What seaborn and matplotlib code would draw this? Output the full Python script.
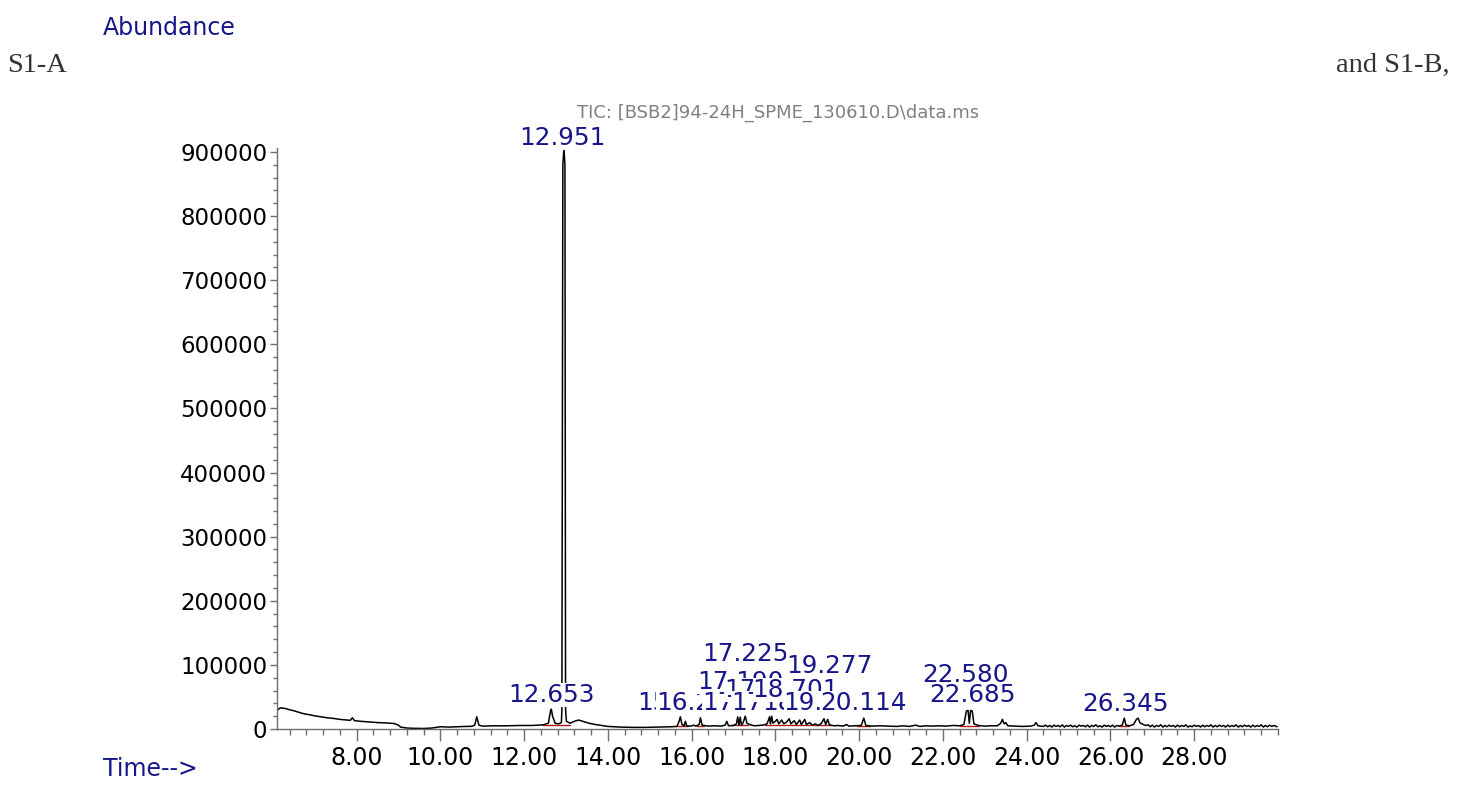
import numpy as np
import pandas as pd
import seaborn as sns
import matplotlib.pyplot as plt
from matplotlib.ticker import MultipleLocator

# retention time (min) and abundance
rt = [6.10, 6.18, 6.30, 6.40, 6.50, 6.60, 6.70, 6.80, 6.90, 7.00, 7.15, 7.30, 7.45, 7.60,
      7.75, 7.85, 7.90, 7.95, 8.10, 8.30, 8.50, 8.70, 8.90, 9.00, 9.05, 9.20, 9.40, 9.60,
      9.80, 10.00, 10.20, 10.40, 10.60, 10.75, 10.82, 10.87, 10.92, 11.00, 11.30, 11.60,
      11.90, 12.20, 12.45, 12.58, 12.63, 12.65, 12.68, 12.74, 12.82, 12.89, 12.902, 12.925,
      12.951, 12.975, 12.99, 13.01, 13.10, 13.20, 13.30, 13.40, 13.55, 13.70, 13.85, 14.00,
      14.30, 14.60, 14.90, 15.20, 15.50, 15.65, 15.70, 15.73, 15.77, 15.82, 15.85, 15.88,
      15.98, 16.05, 16.10, 16.18, 16.21, 16.25, 16.40, 16.55, 16.70, 16.80, 16.84, 16.88,
      17.00, 17.07, 17.10, 17.13, 17.16, 17.19, 17.23, 17.28, 17.32, 17.40, 17.50, 17.60,
      17.70, 17.80, 17.86, 17.88, 17.91, 17.94, 18.00, 18.04, 18.08, 18.15, 18.20, 18.27,
      18.33, 18.37, 18.45, 18.50, 18.58, 18.62, 18.70, 18.74, 18.82, 18.88, 18.95, 19.02,
      19.10, 19.16, 19.20, 19.25, 19.29, 19.40, 19.50, 19.62, 19.70, 19.75, 19.90, 20.05,
      20.11, 20.16, 20.30, 20.50, 20.70, 20.90, 21.05, 21.20, 21.35, 21.45, 21.60, 21.75,
      21.90, 22.05, 22.25, 22.40, 22.50, 22.56, 22.60, 22.63, 22.66, 22.70, 22.74, 22.85,
      23.00, 23.15, 23.30, 23.38, 23.42, 23.46, 23.50, 23.55, 23.70, 23.90, 24.10, 24.18,
      24.22, 24.27, 24.40, 24.45, 24.50, 24.55, 24.60, 24.65, 24.70, 24.75, 24.80, 24.85,
      24.90, 24.95, 25.00, 25.05, 25.10, 25.15, 25.20, 25.25, 25.30, 25.35, 25.40, 25.45,
      25.50, 25.55, 25.60, 25.65, 25.70, 25.75, 25.80, 25.85, 25.90, 25.95, 26.00, 26.05,
      26.10, 26.15, 26.20, 26.28, 26.33, 26.37, 26.45, 26.55, 26.62, 26.66, 26.70, 26.78,
      26.85, 26.90, 26.95, 27.00, 27.05, 27.10, 27.15, 27.20, 27.25, 27.30, 27.35, 27.40,
      27.45, 27.50, 27.55, 27.60, 27.65, 27.70, 27.75, 27.80, 27.85, 27.90, 27.95, 28.00,
      28.05, 28.10, 28.15, 28.20, 28.25, 28.30, 28.35, 28.40, 28.45, 28.50, 28.55, 28.60,
      28.65, 28.70, 28.75, 28.80, 28.85, 28.90, 28.95, 29.00, 29.05, 29.10, 29.15, 29.20,
      29.25, 29.30, 29.35, 29.40, 29.45, 29.50, 29.55, 29.60, 29.65, 29.70, 29.75, 29.80,
      29.85, 29.90, 29.98]
abundance = [29000, 33000, 32000, 30000, 28500, 26500, 24500, 23000, 22000, 20500, 19000, 17500,
             16500, 15000, 14000, 13500, 17500, 13000, 12000, 11000, 10000, 9500, 8500, 6000,
             3000, 1500, 1000, 800, 1500, 3500, 3000, 3500, 4000, 4200, 6000, 19000, 6000, 4500,
             5000, 5000, 5500, 5500, 6500, 9000, 28000, 31000, 20000, 9000, 8000, 10000, 30000,
             880000, 905000, 880000, 30000, 12000, 9000, 12000, 14000, 12000, 9000, 7000, 5500,
             4000, 3000, 2500, 2500, 3000, 3500, 4000, 12000, 19000, 7000, 5000, 12000, 5000,
             4500, 6000, 4500, 7000, 17500, 6000, 4500, 5000, 4500, 6000, 12000, 5000,
             5500, 8000, 19000, 6000, 18500, 6000, 10000, 20000, 9000, 6500, 5000, 5500,
             6000, 8000, 19000, 8000, 20000, 9000, 12000, 15000, 8000, 14000, 8000, 11000,
             16000, 8000, 13000, 7000, 14000, 7000, 15000, 7000, 10000, 6000, 8000, 5500,
             9000, 16000, 7000, 15000, 6500, 5000, 5500, 4500, 7000, 4500, 5000, 5500,
             17000, 5500, 4500, 5000, 4500, 4000, 5000, 4000, 6000, 4000, 5000, 4500,
             5000, 4500, 5500, 5000, 7000, 28000, 29000, 9000, 29000, 28000, 8000, 5500,
             4500, 5000, 5000, 9000, 15000, 8000, 10000, 5000, 4500, 4000, 4500, 6000,
             10000, 5000, 4000, 6000, 3500, 5500, 3000, 6000, 4000, 5500, 3500, 6500,
             3000, 5500, 4000, 6000, 3500, 5000, 3000, 6000, 4500, 5500, 3500, 6000,
             3000, 5500, 4000, 6500, 3500, 5000, 3000, 6000, 4000, 5500, 3500, 6000,
             3000, 5500, 4500, 6000, 17000, 6000, 5000, 7000, 15000, 17000, 10000, 7000,
             5500, 6500, 3500, 6000, 3000, 5500, 4000, 6500, 3000, 5500, 3500, 6000,
             4000, 5500, 3000, 6000, 3500, 5500, 4000, 6500, 3000, 5000, 3500, 6000,
             4000, 5500, 3000, 6000, 3500, 5500, 4000, 6500, 3000, 5500, 3500, 6000,
             4000, 5500, 3000, 6000, 3500, 5500, 4000, 6500, 3000, 5500, 3500, 6000,
             4000, 5500, 3000, 6000, 3500, 5500, 4000, 6500, 3000, 5500, 3500, 6000,
             4000, 5500, 3500]

# integration baselines (red)
base_start = [12.45, 15.62, 16.12, 16.95, 17.75, 18.40, 19.95, 22.40, 26.20]
base_end = [13.10, 15.92, 16.30, 17.35, 18.40, 19.32, 20.25, 22.85, 26.45]
base_level = [6000, 4500, 5000, 5500, 6500, 5500, 5000, 5000, 4500]

# peak labels: text, label centre (min), label baseline (abundance)
peak_text = ["12.653", "12.951", "15.728", "16.211", "17.190", "17.225", "17.283",
             "17.854", "17.910", "18.612", "18.701", "19.183", "19.277", "20.114",
             "22.580", "22.685", "26.345"]
label_rt = [12.66, 12.92, 15.74, 16.19, 17.17, 17.29, 17.29, 17.80, 17.98, 18.72,
            18.49, 19.23, 19.28, 20.11, 22.55, 22.70, 26.36]
label_y = [42100, 911000, 29600, 29600, 62400, 106000, 29600, 49900, 29600, 29600,
           49900, 29600, 87300, 29600, 73300, 42100, 28100]

trace = pd.DataFrame({"rt": rt, "abundance": abundance})

sns.set_theme(style="white")
plt.rcParams["font.family"] = ["DejaVu Sans"]

navy = "#16168a"
axc = "#6e6e6e"

fig = plt.figure(figsize=(14.58, 8.07), dpi=100)
ax = fig.add_axes([277 / 1458, 1 - 729 / 807, (1278 - 277) / 1458, (729 - 148) / 807])

sns.lineplot(data=trace, x="rt", y="abundance", ax=ax, color="black", linewidth=1.1,
             estimator=None, sort=False, zorder=2)
for s, e, l in zip(base_start, base_end, base_level):
    ax.plot([s, e], [l, l], color="#b01818", linewidth=1.0, zorder=1.5)

# labels drawn in time order, later ones hide earlier ones like the instrument printout
for i in range(len(peak_text)):
    ax.text(label_rt[i], label_y[i], peak_text[i], color=navy, fontsize=17.8,
            ha="center", va="baseline", clip_on=False, zorder=5,
            bbox=dict(facecolor="white", edgecolor="none", pad=0))

ax.set_xlim(6.1, 30.0)
ax.set_ylim(0, 906200)
ax.xaxis.set_minor_locator(MultipleLocator(0.4))
ax.yaxis.set_major_locator(MultipleLocator(100000))
ax.yaxis.set_minor_locator(MultipleLocator(20000))
ax.set_xticks(np.arange(8, 29, 2))
ax.set_xticklabels(["%.2f" % v for v in np.arange(8, 29, 2)])
ax.set_yticks(np.arange(0, 900001, 100000))
ax.set_yticklabels([str(int(v)) for v in np.arange(0, 900001, 100000)])
ax.set_xlabel("")
ax.set_ylabel("")

for side in ["top", "right"]:
    ax.spines[side].set_visible(False)
for side in ["left", "bottom"]:
    ax.spines[side].set_color(axc)
    ax.spines[side].set_linewidth(1.0)

ax.tick_params(axis="x", which="major", direction="out", length=8.5, width=1, color=axc,
               labelsize=17, labelcolor="black", pad=4, bottom=True)
ax.tick_params(axis="x", which="minor", direction="out", length=4.5, width=1, color=axc,
               bottom=True)
ax.tick_params(axis="y", which="major", direction="out", length=5, width=1, color=axc,
               labelsize=16.5, labelcolor="black", pad=2, left=True)
ax.tick_params(axis="y", which="minor", direction="out", length=3, width=1, color=axc,
               left=True)

fig.text(103 / 1458, 1 - 35 / 807, "Abundance", color=navy, fontsize=17, va="baseline")
fig.text(103 / 1458, 1 - 776 / 807, "Time-->", color=navy, fontsize=17, va="baseline")
fig.text(778 / 1458, 1 - 118 / 807, "TIC: [BSB2]94-24H_SPME_130610.D\\data.ms",
         color="#808080", fontsize=13, ha="center", va="baseline")
fig.text(7 / 1458, 1 - 72 / 807, "S1-A", color="#333333", fontsize=20.5,
         family="Liberation Serif", va="baseline")
fig.text(1450 / 1458, 1 - 72 / 807, "and S1-B,", color="#333333", fontsize=20.5,
         family="Liberation Serif", ha="right", va="baseline")

fig.savefig("out.png", dpi=100)
